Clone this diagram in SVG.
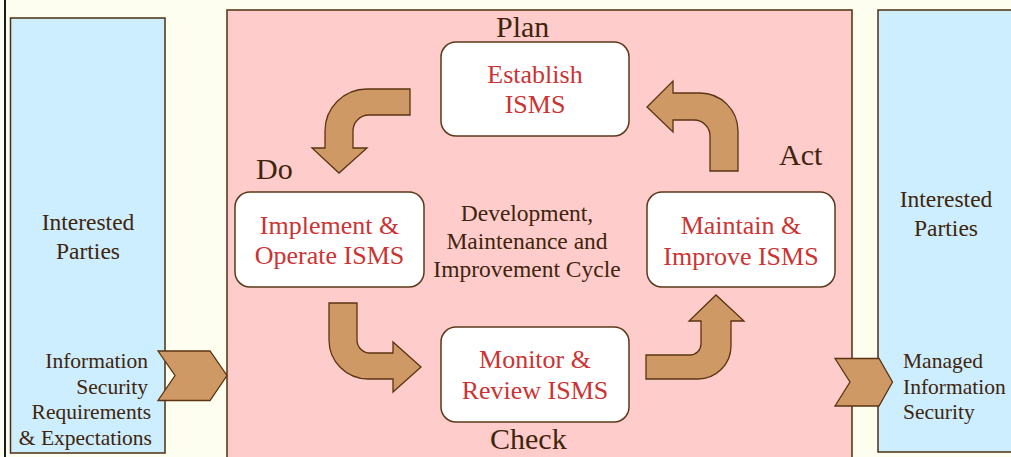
<svg xmlns="http://www.w3.org/2000/svg" width="1011" height="457" viewBox="0 0 1011 457">
  <style>
    .panel { stroke: #4d2f12; stroke-width: 1.5; }
    .party { fill: #cceeff; }
    .cycle { fill: #ffcccc; }
    .step rect { fill: #ffffff; stroke: #5a3a1a; stroke-width: 1.5; }
    .arrow { fill: #cf9966; stroke: #5a3412; stroke-width: 1.3; stroke-linejoin: miter; }
    text { font-family: "Liberation Serif", "Times New Roman", serif; }
    .red { fill: #cc3333; font-size: 26px; text-anchor: middle; }
    .dark { fill: #40240c; }
    .phase { font-size: 30px; }
    .mid { font-size: 23.5px; text-anchor: middle; }
    .small { font-size: 21.5px; }
  </style>

  <!-- background -->
  <rect x="0" y="0" width="1011" height="457" fill="#fdfdf0"/>
  <rect x="4" y="0" width="2" height="457" fill="#1a1a1a"/>

  <!-- outer panels -->
  <g id="left-parties">
    <rect class="panel party" x="10.5" y="18" width="154.5" height="435"/>
    <text class="dark mid" x="88" y="230">Interested</text>
    <text class="dark mid" x="88" y="259">Parties</text>
    <text class="dark small" text-anchor="end" x="148" y="368">Information</text>
    <text class="dark small" text-anchor="end" x="148" y="394">Security</text>
    <text class="dark small" text-anchor="end" x="151" y="419">Requirements</text>
    <text class="dark small" text-anchor="end" x="152" y="445">&amp; Expectations</text>
  </g>

  <g id="cycle-panel">
    <rect class="panel cycle" x="227" y="10" width="625" height="460"/>
    <text class="dark mid" x="527" y="221">Development,</text>
    <text class="dark mid" x="527" y="249">Maintenance and</text>
    <text class="dark mid" x="527" y="277">Improvement Cycle</text>
  </g>

  <g id="right-parties">
    <rect class="panel party" x="878" y="10" width="140" height="442"/>
    <text class="dark mid" x="946" y="207">Interested</text>
    <text class="dark mid" x="946" y="236">Parties</text>
    <text class="dark small" x="903" y="368">Managed</text>
    <text class="dark small" x="903" y="394">Information</text>
    <text class="dark small" x="903" y="419">Security</text>
  </g>

  <!-- phase labels -->
  <g id="labels">
    <text class="dark phase" x="496" y="37">Plan</text>
    <text class="dark phase" x="256" y="179">Do</text>
    <text class="dark phase" x="779" y="165">Act</text>
    <text class="dark phase" x="490" y="449">Check</text>
  </g>

  <!-- process steps -->
  <g id="establish" class="step">
    <rect x="441" y="42" width="188" height="94" rx="15"/>
    <text class="red" x="535" y="83">Establish</text>
    <text class="red" x="535" y="113">ISMS</text>
  </g>
  <g id="implement" class="step">
    <rect x="235" y="192" width="189" height="95" rx="15"/>
    <text class="red" x="329.5" y="234">Implement &amp;</text>
    <text class="red" x="329.5" y="264">Operate ISMS</text>
  </g>
  <g id="maintain" class="step">
    <rect x="647" y="192" width="188" height="95" rx="15"/>
    <text class="red" x="741" y="234">Maintain &amp;</text>
    <text class="red" x="741" y="265">Improve ISMS</text>
  </g>
  <g id="monitor" class="step">
    <rect x="441" y="327" width="188" height="95" rx="15"/>
    <text class="red" x="535" y="368">Monitor &amp;</text>
    <text class="red" x="535" y="399">Review ISMS</text>
  </g>

  <!-- connectors -->
  <g id="connectors">
    <!-- Plan to Do -->
    <path class="arrow" d="M 410 89 L 367 89 A 42 42 0 0 0 325 131 L 325 148 L 312 148 L 339 173 L 367 148 L 353 148 L 353 131 A 16 16 0 0 1 369 115 L 410 115 Z"/>
    <!-- Do to Check -->
    <path class="arrow" d="M 329 303 L 357 303 L 357 340 A 13 13 0 0 0 370 353 L 393 353 L 393 342 L 421 367 L 393 392 L 393 379 L 368 379 A 39 39 0 0 1 329 340 Z"/>
    <!-- Check to Act -->
    <path class="arrow" d="M 646 355 L 690 355 A 11 11 0 0 0 701 344 L 701 321 L 689 321 L 716 295 L 744 321 L 731 321 L 731 346 A 33 33 0 0 1 698 379 L 646 379 Z"/>
    <!-- Act to Plan -->
    <path class="arrow" d="M 710 171 L 738 171 L 738 131 A 38 38 0 0 0 700 93 L 673 93 L 673 81 L 647 107 L 673 132 L 673 120 L 694 120 A 16 16 0 0 1 710 136 Z"/>
    <!-- requirements in, managed security out -->
    <path class="arrow" d="M 158 351 L 210 351 L 227 375.5 L 210 400.5 L 158 400.5 L 175 375.5 Z"/>
    <path class="arrow" d="M 835 358.5 L 879 358.5 L 892.5 382 L 879 406 L 835 406 L 850 382 Z"/>
  </g>
</svg>
